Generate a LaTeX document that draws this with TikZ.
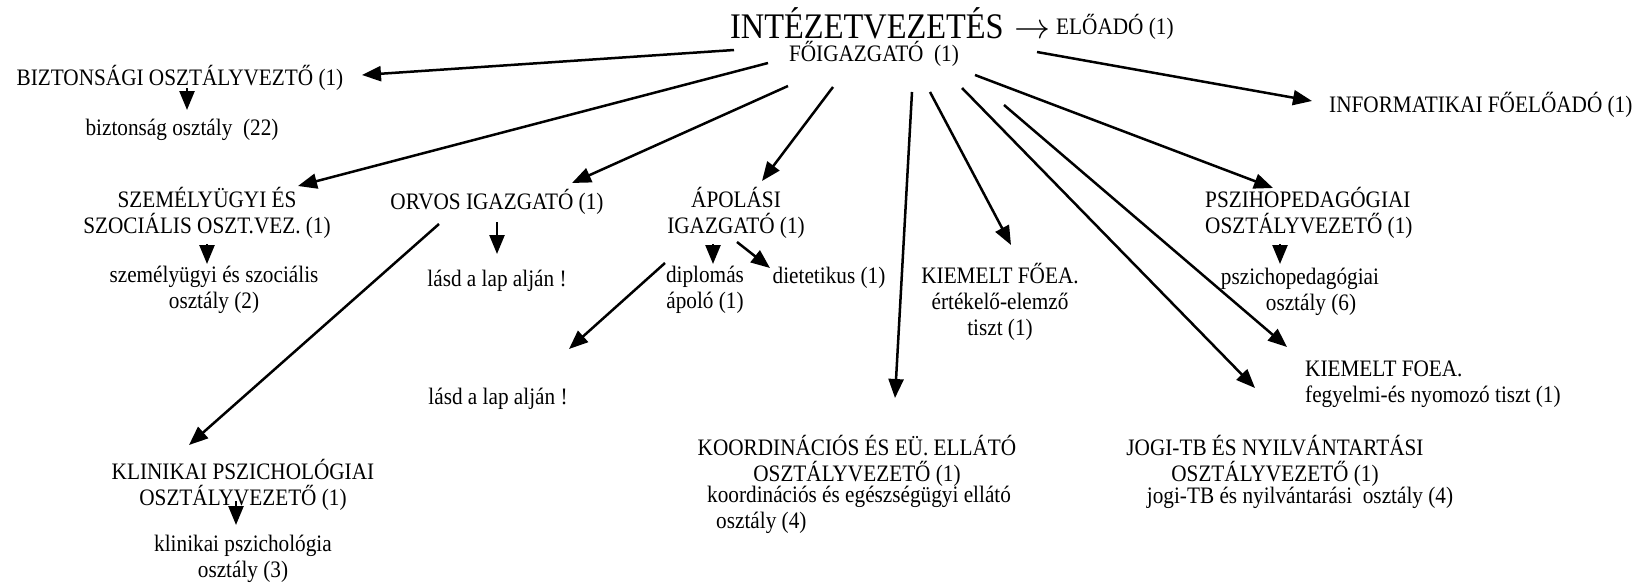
\documentclass[tikz,border=0pt]{standalone}
\usepackage{fontspec}
\setmainfont{Liberation Serif}[FakeStretch=0.9]
\usetikzlibrary{arrows.meta}
\begin{document}
\begin{tikzpicture}[x=1pt,y=-1pt,
  txt/.style={inner sep=0pt,font=\fontsize{23.6}{26}\selectfont,align=center},
  big/.style={inner sep=0pt,font=\fontsize{36}{40}\selectfont},
  arr/.style={line width=2.5pt,-{Triangle[length=19pt,width=15pt]}}]
\useasboundingbox[fill=white] (0,0) rectangle (1643,586);
% nodes
\node[big,anchor=west] (title) at (730,23) {INTÉZETVEZETÉS\hspace{11pt}\scalebox{3.6}{\fontsize{10}{12}\selectfont$\rightarrow$}};
\node[txt,anchor=west] (elo) at (1056,27) {ELŐADÓ (1)};
\node[txt] (foig) at (874,54) {FŐIGAZGATÓ\ \ (1)};
\node[txt] (bizt) at (180,78) {BIZTONSÁGI OSZTÁLYVEZTŐ (1)};
\node[txt] (biztd) at (182,130) {biztonság osztály\ \ (22)};
\node[txt,anchor=west] (info) at (1329,105) {INFORMATIKAI FŐELŐADÓ (1)};
\node[txt] (szem) at (207,213) {SZEMÉLYÜGYI ÉS\\SZOCIÁLIS OSZT.VEZ. (1)};
\node[txt] (szemd) at (214,290) {személyügyi és szociális\\osztály (2)};
\node[txt] (orvos) at (497,202) {ORVOS IGAZGATÓ (1)};
\node[txt] (lasd1) at (497,281) {lásd a lap alján !};
\node[txt] (klin) at (243,485) {KLINIKAI PSZICHOLÓGIAI\\OSZTÁLYVEZETŐ (1)};
\node[txt] (klind) at (243,559) {klinikai pszichológia\\osztály (3)};
\node[txt] (apol) at (736,213) {ÁPOLÁSI\\IGAZGATÓ (1)};
\node[txt] (dipl) at (705,290) {diplomás\\ápoló (1)};
\node[txt] (diet) at (829,278) {dietetikus (1)};
\node[txt] (lasd2) at (498,399) {lásd a lap alján !};
\node[txt] (kiem1) at (1000,302) {KIEMELT FŐEA.\\értékelő-elemző\\tiszt (1)};
\node[txt] (koord) at (857,460.5) {KOORDINÁCIÓS ÉS EÜ. ELLÁTÓ\\OSZTÁLYVEZETŐ (1)};
\node[txt,align=left,anchor=north west] (koordd) at (707,486) {koordinációs és egészségügyi ellátó\\\hspace{9pt}osztály (4)};
\node[txt,align=left,anchor=west] (psz) at (1205,213) {PSZIHOPEDAGÓGIAI\\OSZTÁLYVEZETŐ (1)};
\node[txt] (pszd) at (1300,292) {pszichopedagógiai\\\hspace{22pt}osztály (6)};
\node[txt,align=left,anchor=west] (kiem2) at (1305,384) {KIEMELT FOEA.\\fegyelmi-és nyomozó tiszt (1)};
\node[txt] (jogi) at (1275,461) {JOGI-TB ÉS NYILVÁNTARTÁSI\\OSZTÁLYVEZETŐ (1)};
\node[txt] (jogid) at (1300,498) {jogi-TB és nyilvántarási\ \ osztály (4)};
% connectors from FŐIGAZGATÓ
\draw[arr] ([shift={(-140pt,4pt)}]foig.center) -- ([shift={(182pt,3pt)}]bizt.center);
\draw[arr] ([shift={(-106pt,-9pt)}]foig.center) -- ([shift={(91pt,27pt)}]szem.center);
\draw[arr] ([shift={(-86pt,-32pt)}]foig.center) -- ([shift={(75pt,19pt)}]orvos.center);
\draw[arr] ([shift={(-41pt,-33pt)}]foig.center) -- ([shift={(26pt,32pt)}]apol.center);
\draw[arr] ([shift={(38pt,-38pt)}]foig.center) -- ([shift={(38pt,62.5pt)}]koord.center);
\draw[arr] ([shift={(56pt,-38pt)}]foig.center) -- ([shift={(11pt,57pt)}]kiem1.center);
\draw[arr] ([shift={(88pt,-34pt)}]foig.center) -- ([shift={(-20pt,73pt)}]jogi.center);
\draw[arr] ([shift={(130pt,-51pt)}]foig.center) -- ([shift={(-18pt,37pt)}]kiem2.west);
\draw[arr] ([shift={(101pt,-21pt)}]foig.center) -- ([shift={(68pt,25pt)}]psz.west);
\draw[arr] ([shift={(163pt,2pt)}]foig.center) -- ([shift={(-17pt,4pt)}]info.west);
% small connectors
\draw[arr] ([shift={(7pt,-10pt)}]bizt.center) -- ([shift={(5pt,20pt)}]biztd.center);
\draw[arr] ([shift={(0pt,-31pt)}]szem.center) -- ([shift={(-7pt,26pt)}]szemd.center);
\draw[arr] ([shift={(0pt,-20pt)}]orvos.center) -- ([shift={(0pt,27pt)}]lasd1.center);
\draw[arr] ([shift={(-58pt,-22pt)}]orvos.center) -- ([shift={(-54pt,40pt)}]klin.center);
\draw[arr] ([shift={(-7pt,-16pt)}]klin.center) -- ([shift={(-7pt,34pt)}]klind.center);
\draw[arr] ([shift={(-23pt,-31pt)}]apol.center) -- ([shift={(8pt,26pt)}]dipl.center);
\draw[arr] ([shift={(1pt,-29pt)}]apol.center) -- ([shift={(-59pt,10pt)}]diet.center);
\draw[arr] ([shift={(-71pt,-50pt)}]apol.center) -- ([shift={(71pt,50pt)}]lasd2.center);
\draw[arr] ([shift={(75pt,-31pt)}]psz.west) -- ([shift={(-20pt,28pt)}]pszd.center);
\end{tikzpicture}
\end{document}
